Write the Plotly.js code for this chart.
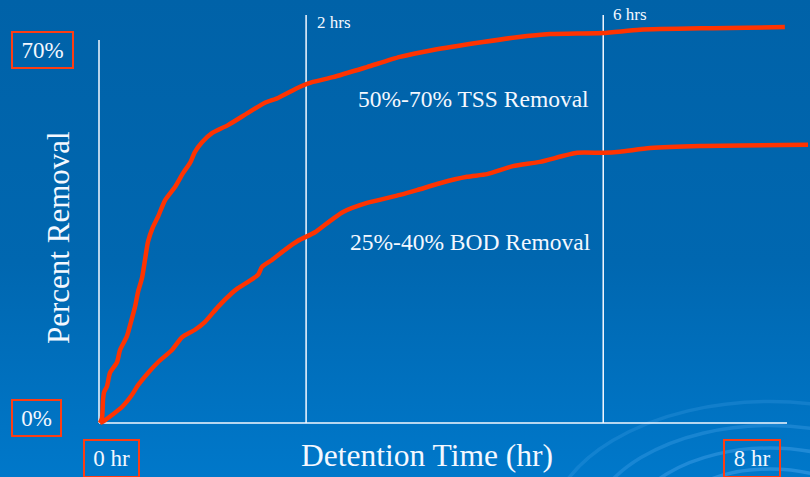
<!DOCTYPE html>
<html>
<head>
<meta charset="utf-8">
<script src="https://cdn.plot.ly/plotly-3.0.1.min.js"></script>
<style>
  html, body { margin: 0; padding: 0; }
  body {
    width: 810px; height: 477px; overflow: hidden;
    background: linear-gradient(to bottom, #0062a8 0%, #0067b0 55%, #0078ca 100%);
  }
  #chart { width: 810px; height: 477px; }
</style>
</head>
<body>
<div id="chart"></div>
<script>
// Detention time (hours) and percent removal for each curve
const tssHours = [0, 0.023, 0.035, 0.047, 0.082, 0.116, 0.198, 0.233, 0.314, 0.361, 0.408, 0.443, 0.489,
  0.524, 0.559, 0.617, 0.675, 0.757, 0.873, 0.967, 1.048, 1.106, 1.188, 1.304, 1.491, 1.723, 1.921,
  2.073, 2.329, 2.480, 2.713, 3.109, 3.493, 3.878, 4.460, 4.856, 5.240, 5.857, 6.288, 7.138, 7.975];
const tssRemoval = [0, 0.9, 4.3, 5.8, 6.9, 9.4, 11.4, 13.7, 16.3, 19.0, 21.8, 24.6, 27.2,
  30.6, 34.0, 36.8, 38.7, 41.8, 44.3, 46.9, 48.8, 50.9, 52.7, 54.4, 55.9, 58.2, 60.1,
  61.0, 63.1, 64.0, 64.9, 66.8, 68.7, 70.0, 71.5, 72.4, 73.0, 73.2, 73.8, 74.1, 74.3];

const bodHours = [0, 0.047, 0.140, 0.256, 0.373, 0.443, 0.559, 0.675, 0.838, 0.955, 1.106, 1.223,
  1.374, 1.537, 1.607, 1.840, 1.886, 2.003, 2.154, 2.306, 2.504, 2.620, 2.713, 2.830, 3.109, 3.493,
  3.691, 3.959, 4.274, 4.507, 4.809, 5.124, 5.555, 5.857, 6.055, 6.405, 6.987, 8.245];
const bodRemoval = [0, 0.4, 1.5, 3.0, 5.3, 7.1, 9.4, 11.4, 13.7, 16.1, 17.5, 19.0,
  21.8, 24.4, 25.3, 27.8, 29.3, 30.6, 32.5, 34.2, 35.8, 37.2, 38.3, 39.6, 41.3, 42.8,
  43.7, 45.0, 46.2, 46.7, 48.2, 49.0, 50.7, 50.7, 50.9, 51.6, 52.0, 52.2];

// Reference lines across the chart
const markerHours = [2.4, 5.86];
const markerLabels = ['2 hrs', '6 hrs'];

// Axis end labels
const axisLabels = ['70%', '0%', '0 hr', '8 hr'];
const curveLabels = ['50%-70% TSS Removal', '25%-40% BOD Removal'];

// Plot area: 90..810 px across, 0..440 px down; origin of the axes at (100, 423)
const PLOT_L = 90, PLOT_W = 720, PLOT_H = 440;
const PX_PER_HR = 85.875, PX_PER_PCT = 5.3286, X0 = 100, Y0 = 423;
const X = px => (px - X0) / PX_PER_HR;       // pixel -> hours
const Y = py => (Y0 - py) / PX_PER_PCT;      // pixel -> percent
const PX = px => (px - PLOT_L) / PLOT_W;     // pixel -> paper
const PY = py => (PLOT_H - py) / PLOT_H;

const RED = '#ff3300';
const BOX_RED = '#ff3d12';
const SERIF = '"Liberation Serif", "Times New Roman", Times, serif';
const WHITE = '#f4f8ff';

const curveStyle = { color: RED, width: 4.5, shape: 'spline', smoothing: 0.6 };
const traces = [
  { x: tssHours, y: tssRemoval, type: 'scatter', mode: 'lines', line: curveStyle, hoverinfo: 'skip' },
  { x: bodHours, y: bodRemoval, type: 'scatter', mode: 'lines', line: curveStyle, hoverinfo: 'skip' }
];

const shapes = [];
// water ripples, lower right
[[62, 0.36], [88, 0.32], [116, 0.28], [146, 0.22], [178, 0.16]].forEach(([r, a]) => shapes.push({
  type: 'circle', xref: 'paper', yref: 'paper', layer: 'below',
  x0: PX(770 - r * 1.25), x1: PX(770 + r * 1.25), y0: PY(535 + r * 0.75), y1: PY(535 - r * 0.75),
  line: { color: `rgba(110,190,255,${a})`, width: 3.5 }
}));
// axes
shapes.push({ type: 'line', xref: 'x', yref: 'y', x0: X(99), x1: X(99), y0: 0, y1: Y(40),
  line: { color: WHITE, width: 1.5 }, layer: 'below' });
shapes.push({ type: 'line', xref: 'x', yref: 'y', x0: X(99), x1: X(787), y0: 0, y1: 0,
  line: { color: WHITE, width: 1.5 }, layer: 'below' });
// time markers
markerHours.forEach(h => shapes.push({ type: 'line', xref: 'x', yref: 'y', x0: h, x1: h, y0: 0, y1: Y(15),
  line: { color: WHITE, width: 1.5 }, layer: 'below' }));

const txt = (text, cx, cy, size, extra) => Object.assign({
  text, xref: 'paper', yref: 'paper', x: PX(cx), y: PY(cy), showarrow: false,
  xanchor: 'center', yanchor: 'middle',
  font: { family: SERIF, size, color: WHITE }
}, extra || {});

const boxed = (text, cx, cy, w, h) => txt(text, cx, cy, 23, {
  width: w, height: h, borderpad: 0, bordercolor: BOX_RED, borderwidth: 2, align: 'center', valign: 'middle'
});

const annotations = [
  boxed(axisLabels[0], 42.5, 49.5, 59, 34),
  boxed(axisLabels[1], 36.5, 417.5, 47, 34),
  boxed(axisLabels[2], 111.5, 458, 53, 35),
  boxed(axisLabels[3], 752, 458, 54, 35),
  txt(markerLabels[0], 315, 22, 17, { xanchor: 'left' }),
  txt(markerLabels[1], 611, 15, 17, { xanchor: 'left' }),
  txt(curveLabels[0], 473.5, 99, 23.5),
  txt(curveLabels[1], 470.5, 242, 23.5),
  txt('Detention Time (hr)', 426.5, 455, 31.5),
  txt('Percent Removal', 58, 238, 31, { textangle: -90 })
];

const layout = {
  width: 810, height: 477,
  margin: { l: 90, r: 0, t: 0, b: 37, pad: 0 },
  paper_bgcolor: 'rgba(0,0,0,0)', plot_bgcolor: 'rgba(0,0,0,0)',
  showlegend: false,
  font: { family: SERIF },
  xaxis: { range: [X(90), X(810)], visible: false, fixedrange: true },
  yaxis: { range: [Y(440), Y(0)], visible: false, fixedrange: true },
  shapes, annotations
};

Plotly.newPlot('chart', traces, layout, { staticPlot: true, displayModeBar: false });
</script>
</body>
</html>
